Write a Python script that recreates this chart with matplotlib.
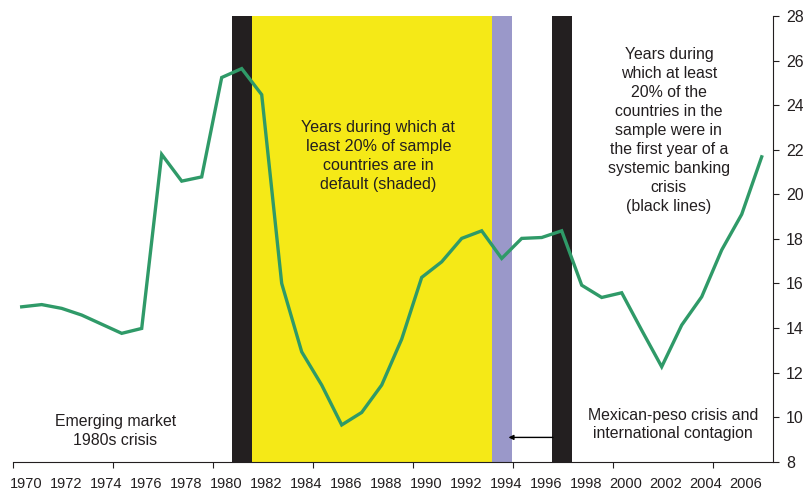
import matplotlib.pyplot as plt
from matplotlib.ticker import FixedLocator

plt.rcParams['font.family'] = ['Liberation Sans', 'DejaVu Sans']

# Data
years = list(range(1970, 2008))
values = [14.95, 15.05, 14.88, 14.58, 14.17, 13.76, 13.98, 21.79, 20.59, 20.78,
          25.24, 25.64, 24.47, 16.0, 12.93, 11.44, 9.65, 10.21, 11.44, 13.5,
          16.27, 16.97, 18.02, 18.36, 17.12, 18.02, 18.06, 18.36, 15.92, 15.37,
          15.58, 13.9, 12.26, 14.13, 15.40, 17.5, 19.1, 21.68]
banking_crisis_years = [1981, 1997]
default_start, default_end = 1982, 1993
peso_crisis_year = 1994
year_labels = list(range(1970, 2007, 2))
y_ticks = list(range(8, 29, 2))

text_col = '#231f20'

fig = plt.figure(figsize=(8.04, 4.92), dpi=100)
ax = fig.add_axes([12.7 / 804, 30.3 / 492, 760 / 804, 445.7 / 492])

# shaded periods
ax.axvspan(default_start - 0.5, default_end + 0.5, color='#f5e917', lw=0, zorder=1)
ax.axvspan(peso_crisis_year - 0.5, peso_crisis_year + 0.5, color='#9a98c9', lw=0, zorder=1)
for yr in banking_crisis_years:
    ax.axvspan(yr - 0.5, yr + 0.5, color='#231f20', lw=0, zorder=1)

ax.plot(years, values, color='#2f9a68', lw=2.4, zorder=3, solid_joinstyle='miter')

ax.set_xlim(1969.55, 2007.55)
ax.set_ylim(8, 28)

# spines
for s in ['left', 'top']:
    ax.spines[s].set_visible(False)
for s in ['bottom', 'right']:
    ax.spines[s].set_linewidth(0.8)
    ax.spines[s].set_color(text_col)
    ax.spines[s].set_zorder(4)

# x ticks: unlabeled marks every 5 years, labels on even years
ax.xaxis.set_major_locator(FixedLocator([1969.55 + 5 * k for k in range(8)]))
ax.xaxis.set_major_formatter(plt.NullFormatter())
ax.set_xticks([y + 0.2 for y in year_labels], minor=True)
ax.set_xticklabels([str(y) for y in year_labels], minor=True)
ax.tick_params(axis='x', which='major', direction='out', length=4, width=0.8, color=text_col)
ax.tick_params(axis='x', which='minor', length=0, pad=11, labelsize=10.5, labelcolor=text_col)

# y axis on the right
ax.yaxis.tick_right()
ax.set_yticks(y_ticks)
ax.tick_params(axis='y', direction='out', length=4, width=0.8, pad=5.5,
               labelsize=11.5, labelcolor=text_col, color=text_col)

# annotations
ax.text(1987.83, 21.72, 'Years during which at\nleast 20% of sample\ncountries are in\ndefault (shaded)',
        ha='center', va='center', fontsize=11.6, color=text_col, linespacing=1.35, zorder=5)
ax.text(2002.36, 22.85, 'Years during\nwhich at least\n20% of the\ncountries in the\nsample were in\nthe first year of a\nsystemic banking\ncrisis\n(black lines)',
        ha='center', va='center', fontsize=11.4, color=text_col, linespacing=1.33, zorder=5)
ax.text(1974.67, 9.37, 'Emerging market\n1980s crisis',
        ha='center', va='center', fontsize=11.4, color=text_col, linespacing=1.33, zorder=5)
ax.text(2002.57, 9.67, 'Mexican-peso crisis and\ninternational contagion',
        ha='center', va='center', fontsize=11.4, color=text_col, linespacing=1.33, zorder=5)
ax.annotate('', xy=(1994.2, 9.09), xytext=(1996.7, 9.09),
            arrowprops=dict(arrowstyle='-|>', color='black', lw=1, mutation_scale=7),
            zorder=5)

fig.savefig('out.png', dpi=100)
